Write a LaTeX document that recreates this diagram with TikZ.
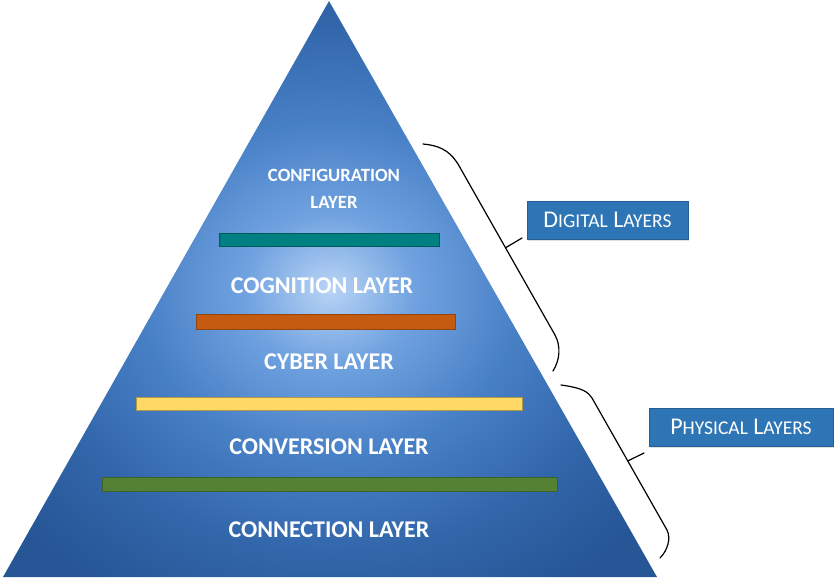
\documentclass[tikz,border=0pt]{standalone}
\usepackage{fontspec}
\setmainfont{Carlito}
\usetikzlibrary{calc,shadows}
\definecolor{pyrlight}{RGB}{185,212,245}
\definecolor{pyrmid}{RGB}{112,162,224}
\definecolor{pyrblue}{RGB}{72,128,198}
\definecolor{pyrdeep}{RGB}{50,102,170}
\definecolor{pyrdark}{RGB}{38,86,150}
\definecolor{barteal}{RGB}{0,128,128}
\definecolor{barorange}{RGB}{197,90,17}
\definecolor{baryellow}{RGB}{255,217,102}
\definecolor{bargreen}{RGB}{84,130,53}
\definecolor{tagblue}{RGB}{46,117,182}
\pgfdeclareradialshading{pyramid}{\pgfpoint{0bp}{0bp}}{color(0bp)=(pyrlight); color(6.5bp)=(pyrmid); color(14.5bp)=(pyrblue); color(23bp)=(pyrdeep); color(31bp)=(pyrdark); color(50bp)=(pyrdark)}
\newcommand{\tagsc}[1]{{\fontsize{19.5}{19.5}\selectfont #1}}

\begin{document}
\begin{tikzpicture}[x=1pt,y=-1pt,inner sep=0pt,outer sep=0pt,
layer/.style={text=white,font=\fontsize{24}{24}\selectfont\bfseries},
bar/.style={draw,line width=0.8pt},
tag/.style={draw=tagblue!80!black,fill=tagblue,line width=0.6pt,minimum width=161pt,minimum height=38pt,
  text=white,font=\fontsize{24}{24}\selectfont,drop shadow={opacity=0.25,shadow xshift=1pt,shadow yshift=-1.5pt}},
brace/.style={line width=1.2pt,line cap=round}]
\useasboundingbox (0,0) rectangle (839,579);

\shade[shading=pyramid] (329,1) -- (657,577) -- (3,577) -- cycle;

\draw[bar,fill=barteal,draw=barteal!70!black] (219,233) rectangle (439,246);
\draw[bar,fill=barorange,draw=barorange!75!black] (196,314) rectangle (455,329);
\draw[bar,fill=baryellow,draw=baryellow!70!black] (136,397) rectangle (522,410);
\draw[bar,fill=bargreen,draw=bargreen!75!black] (102,477) rectangle (557,491);

\draw (334,175) node[layer,font=\fontsize{18.7}{18.7}\selectfont\bfseries] (config) {CONFIGURATION};
\draw (334,202) node[layer,font=\fontsize{18.7}{18.7}\selectfont\bfseries] (config2) {LAYER};
\draw (322,286) node[layer] (cogn) {COGNITION LAYER};
\draw (329,362) node[layer] (cyber) {CYBER LAYER};
\draw (329,447) node[layer] (conv) {CONVERSION LAYER};
\draw (329,530) node[layer] (conn) {CONNECTION LAYER};

\draw (607.5,220) node[tag] (dig) {D\tagsc{IGITAL} L\tagsc{AYERS}};
\draw (741,427) node[tag,minimum width=184pt] (phys) {P\tagsc{HYSICAL} L\tagsc{AYERS}};

\draw[brace] (423,144) .. controls (445,146) and (452,155) .. (458,164)
  -- coordinate[pos=0.49] (dtip) (555,335) .. controls (561,346) and (560,360) .. (553,371);
\draw[brace] (dtip) -- ($(dig.south west)+(-5,-1)$);
\draw[brace] (561,385) .. controls (583,388) and (588,392) .. (592,398)
  -- coordinate[pos=0.477] (ptip) (667,530) .. controls (671,538) and (668,550) .. (660,558);
\draw[brace] (ptip) -- ($(phys.south west)+(-5,7)$);
\end{tikzpicture}
\end{document}
